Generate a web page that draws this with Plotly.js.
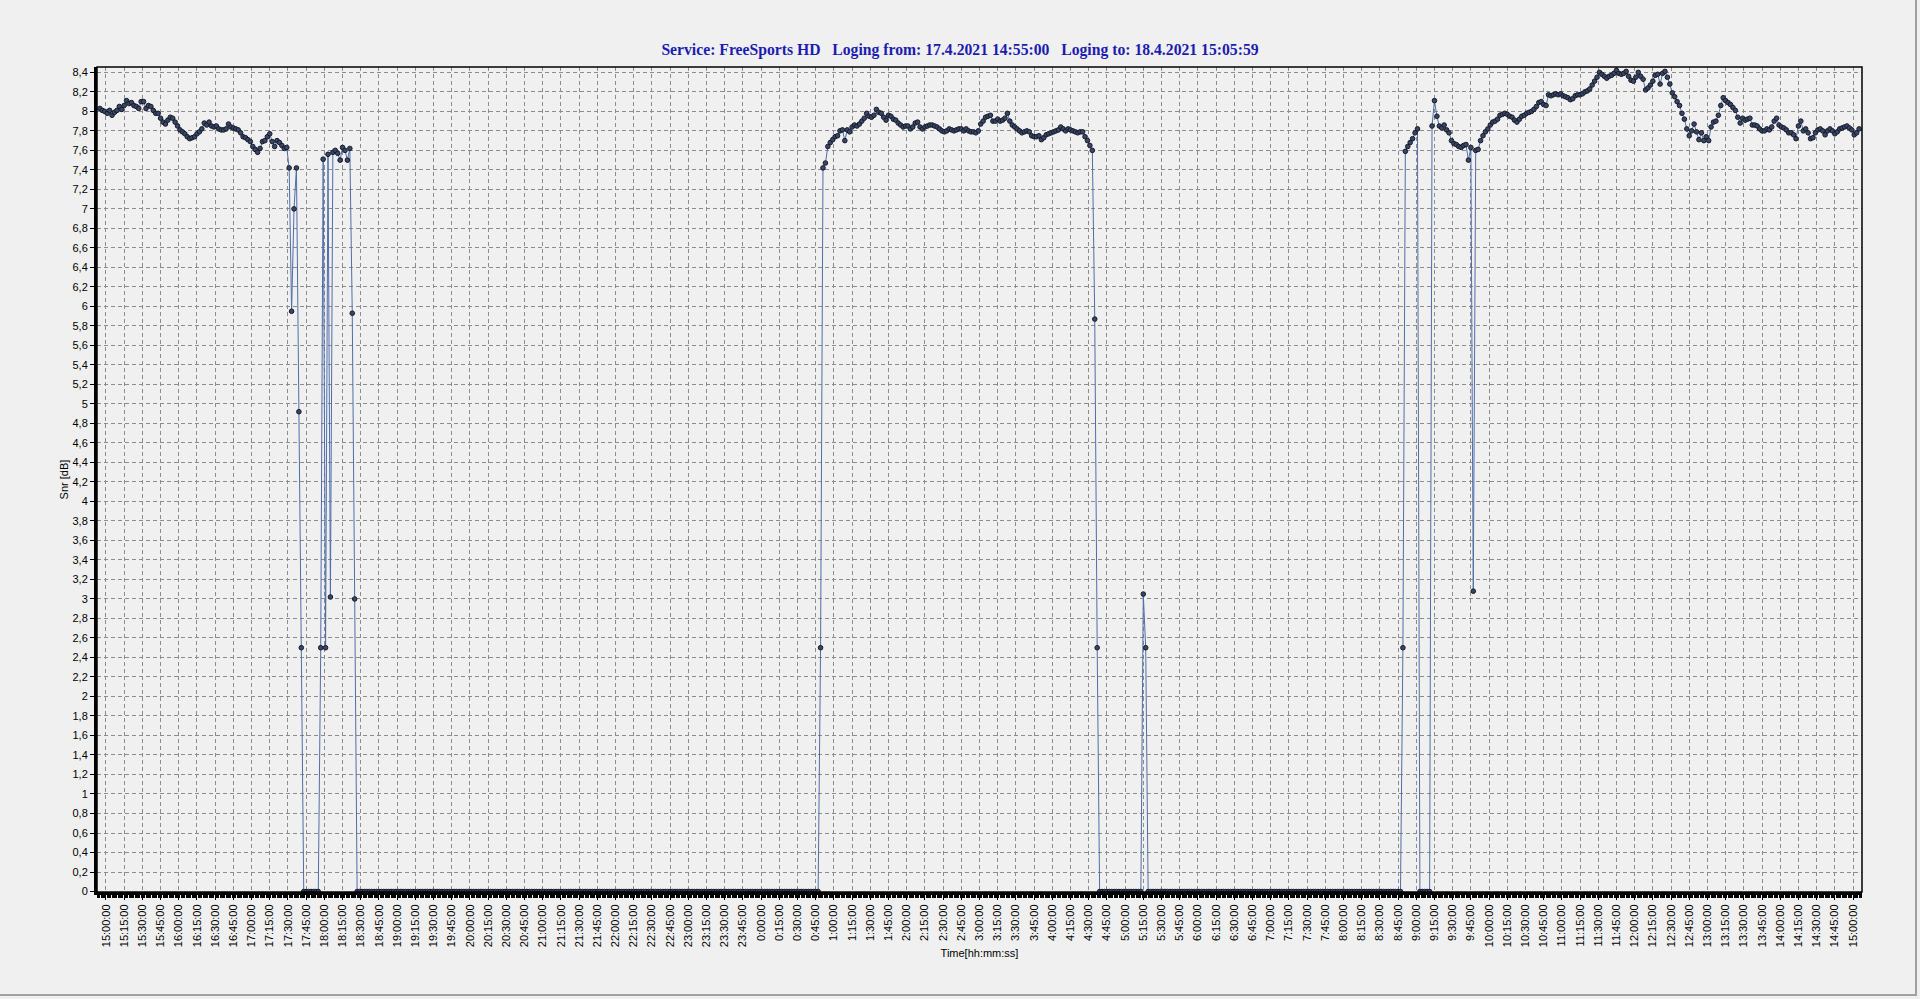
<!DOCTYPE html>
<html>
<head>
<meta charset="utf-8">
<script src="https://cdn.plot.ly/plotly-3.0.1.min.js"></script>
<style>
html,body{margin:0;padding:0;background:#f0f0f0;overflow:hidden}
#chart{position:absolute;left:0;top:0;width:1920px;height:999px}
#frameR{position:absolute;left:1915px;top:0;width:2px;height:996px;background:#a0a0a0}
#frameB{position:absolute;left:0;top:994px;width:1917px;height:2px;background:#a0a0a0}
</style>
</head>
<body>
<div id="chart"></div>
<div id="frameR"></div>
<div id="frameB"></div>
<script>
// Sampling step of the log (minutes)
const stepMinutes = 2;

// 17.4 14:55 -> 18:25 : signal, then first outages
const segAStart = '2021-04-17 14:55:00';
const segA = [
8.03,8.01,8.0,7.98,8.01,7.96,7.99,8.01,8.05,8.02,
8.06,8.11,8.08,8.09,8.06,8.05,8.03,8.1,8.1,8.03,
8.06,8.05,8.01,7.98,7.98,7.93,7.89,7.87,7.91,7.94,
7.93,7.89,7.85,7.81,7.79,7.77,7.74,7.72,7.73,7.74,
7.77,7.79,7.82,7.88,7.86,7.89,7.85,7.84,7.85,7.82,
7.81,7.81,7.82,7.87,7.84,7.83,7.82,7.81,7.78,7.74,
7.73,7.71,7.69,7.64,7.61,7.58,7.62,7.69,7.7,7.74,
7.77,7.69,7.64,7.7,7.68,7.65,7.62,7.63,7.42,5.95,
7.0,7.42,4.92,2.5,0,0,0,0,0,0,
0,2.5,7.51,2.5,7.56,3.02,7.58,7.6,7.57,7.5,
7.63,7.6,7.5,7.62,5.93,3.0
];

// 18:27 -> 0:47 : no signal
const zerosAStart = '2021-04-17 18:27:00';
const zerosA = [
0,0,0,0,0,0,0,0,0,0, 0,0,0,0,0,0,0,0,0,0,
0,0,0,0,0,0,0,0,0,0, 0,0,0,0,0,0,0,0,0,0,
0,0,0,0,0,0,0,0,0,0, 0,0,0,0,0,0,0,0,0,0,
0,0,0,0,0,0,0,0,0,0, 0,0,0,0,0,0,0,0,0,0,
0,0,0,0,0,0,0,0,0,0, 0,0,0,0,0,0,0,0,0,0,
0,0,0,0,0,0,0,0,0,0, 0,0,0,0,0,0,0,0,0,0,
0,0,0,0,0,0,0,0,0,0, 0,0,0,0,0,0,0,0,0,0,
0,0,0,0,0,0,0,0,0,0, 0,0,0,0,0,0,0,0,0,0,
0,0,0,0,0,0,0,0,0,0, 0,0,0,0,0,0,0,0,0,0,
0,0,0,0,0,0,0,0,0,0,
0
];

// 0:49 -> 4:37 : signal back
const segBStart = '2021-04-18 00:49:00';
const segB = [
2.5,
7.42,7.47,7.64,7.68,7.71,7.74,7.75,7.8,7.81,7.7,
7.81,7.79,7.84,7.86,7.85,7.87,7.9,7.93,7.98,7.95,
7.94,7.96,8.02,7.99,7.98,7.94,7.91,7.96,7.95,7.92,
7.91,7.88,7.86,7.84,7.85,7.85,7.82,7.84,7.88,7.89,
7.84,7.82,7.84,7.85,7.86,7.86,7.85,7.84,7.82,7.8,
7.79,7.8,7.82,7.81,7.8,7.81,7.82,7.82,7.8,7.82,
7.8,7.79,7.79,7.78,7.8,7.87,7.9,7.94,7.95,7.96,
7.9,7.9,7.92,7.9,7.91,7.93,7.98,7.9,7.86,7.84,
7.82,7.8,7.78,7.79,7.8,7.79,7.75,7.74,7.74,7.75,
7.71,7.73,7.76,7.77,7.78,7.79,7.8,7.81,7.84,7.82,
7.8,7.82,7.81,7.8,7.79,7.78,7.79,7.79,7.74,7.7,
7.65,7.6,
5.87,2.5
];

// 4:39 -> 5:13 : no signal
const zerosBStart = '2021-04-18 04:39:00';
const zerosB = [0,0,0,0,0,0,0,0,0,0, 0,0,0,0,0,0,0,0];

// 5:15 short spike
const spikeStart = '2021-04-18 05:15:00';
const spike = [3.05,2.5];

// 5:19 -> 8:47 : no signal
const zerosCStart = '2021-04-18 05:19:00';
const zerosC = [
0,0,0,0,0,0,0,0,0,0, 0,0,0,0,0,0,0,0,0,0,
0,0,0,0,0,0,0,0,0,0, 0,0,0,0,0,0,0,0,0,0,
0,0,0,0,0,0,0,0,0,0, 0,0,0,0,0,0,0,0,0,0,
0,0,0,0,0,0,0,0,0,0, 0,0,0,0,0,0,0,0,0,0,
0,0,0,0,0,0,0,0,0,0, 0,0,0,0,0,0,0,0,0,0,
0,0,0,0,0
];

// 8:49 -> 9:01 : short return
const segCStart = '2021-04-18 08:49:00';
const segC = [2.5,7.59,7.64,7.68,7.72,7.78,7.82];

// 9:03 -> 9:11 : no signal
const zerosDStart = '2021-04-18 09:03:00';
const zerosD = [0,0,0,0,0];

// 9:13 -> 15:05 : signal
const segDStart = '2021-04-18 09:13:00';
const segD = [
7.85,8.11,7.95,7.85,7.83,7.86,7.81,7.78,7.7,7.67,
7.66,7.64,7.63,7.65,7.66,7.5,7.63,3.08,7.6,7.61,
7.7,7.75,7.79,7.82,7.86,7.89,7.9,7.92,7.96,7.97,
7.98,7.97,7.95,7.94,7.91,7.89,7.92,7.95,7.96,7.98,
7.99,8.0,8.02,8.05,8.09,8.1,8.07,8.06,8.17,8.16,
8.17,8.18,8.17,8.18,8.16,8.15,8.14,8.12,8.13,8.16,
8.17,8.17,8.18,8.2,8.21,8.23,8.27,8.31,8.35,8.4,
8.38,8.36,8.34,8.36,8.37,8.39,8.42,8.39,8.38,8.39,
8.41,8.36,8.32,8.31,8.35,8.4,
8.36,8.33,8.22,8.24,8.27,8.31,8.37,8.38,8.28,8.39,
8.41,8.35,8.28,8.19,8.15,8.1,8.06,7.98,7.92,7.82,
7.75,7.8,7.87,7.79,7.71,7.78,7.7,7.74,7.7,7.84,
7.89,7.9,7.96,8.06,8.14,8.11,8.09,8.07,8.04,8.01,
7.94,7.88,7.93,7.91,7.92,7.93,7.86,7.86,7.85,7.82,
7.8,7.8,7.82,7.81,7.84,7.9,7.93,7.86,7.84,7.83,
7.81,7.78,7.78,7.76,7.72,7.85,7.9,7.8,7.82,7.78,
7.72,7.73,7.78,7.81,7.82,7.8,7.76,7.8,7.82,7.8,
7.77,7.79,7.82,7.83,7.84,7.85,7.83,7.81,7.76,7.78,
7.82
];

const yTickLabels = ['0','0,2','0,4','0,6','0,8','1','1,2','1,4','1,6','1,8','2','2,2','2,4','2,6','2,8','3','3,2','3,4','3,6','3,8','4','4,2','4,4','4,6','4,8','5','5,2','5,4','5,6','5,8','6','6,2','6,4','6,6','6,8','7','7,2','7,4','7,6','7,8','8','8,2','8,4'];

const titleText = 'Service: FreeSports HD\u00a0\u00a0\u00a0Loging from: 17.4.2021 14:55:00\u00a0\u00a0\u00a0Loging to: 18.4.2021 15:05:59';

// ---- build the trace from the segments ----
const segments = [
  [segAStart, segA], [zerosAStart, zerosA], [segBStart, segB], [zerosBStart, zerosB],
  [spikeStart, spike], [zerosCStart, zerosC], [segCStart, segC], [zerosDStart, zerosD],
  [segDStart, segD]
];
function toStamp(startStr, minutes){
  const d = new Date(startStr.replace(' ','T') + 'Z');
  d.setTime(d.getTime() + minutes*60000);
  return d.toISOString().slice(0,19).replace('T',' ');
}
const xs = [], ys = [];
segments.forEach(([s, vals]) => {
  vals.forEach((v, k) => { xs.push(toStamp(s, k*stepMinutes)); ys.push(v); });
});
const yTickVals = yTickLabels.map(t => parseFloat(t.replace(',', '.')));

const trace = {
  x: xs, y: ys, type: 'scatter', mode: 'lines+markers',
  line: {color: '#4f6da8', width: 1},
  marker: {size: 4.6, color: '#3a4668', line: {color: '#151a28', width: 1}},
  cliponaxis: false, hoverinfo: 'skip'
};

const axisFont = {family: 'Liberation Sans, Arial, sans-serif', size: 11, color: '#000'};
const layout = {
  width: 1920, height: 999,
  paper_bgcolor: '#f0f0f0', plot_bgcolor: '#f0f0f0',
  margin: {l: 97, r: 58, t: 67, b: 107, pad: 0},
  showlegend: false,
  title: {
    text: '<b>' + titleText + '</b>',
    font: {family: 'Liberation Serif, Times New Roman, serif', size: 15.7, color: '#1c1cb0'},
    xref: 'container', x: 0.5, xanchor: 'center',
    yref: 'container', y: 1 - 50/999, yanchor: 'middle'
  },
  xaxis: {
    type: 'date',
    range: ['2021-04-17 14:52:36', '2021-04-18 15:07:24'],
    tick0: '2021-04-17 15:00:00', dtick: 900000,
    tickformat: '%-H:%M:%S', tickangle: -90,
    ticks: 'outside', ticklen: 5, tickwidth: 1, tickcolor: '#000',
    tickfont: axisFont,
    showgrid: true, gridcolor: '#8c8c8c', gridwidth: 1, griddash: '4px,3px',
    minor: {dtick: 60000, tick0: '2021-04-17 15:00:00', ticks: 'outside', ticklen: 3, tickwidth: 1, tickcolor: '#000', showgrid: false},
    showline: true, linecolor: '#000', linewidth: 3,
    zeroline: false, automargin: false, fixedrange: true,
    title: {text: 'Time[hh:mm:ss]', font: axisFont, standoff: 4}
  },
  yaxis: {
    range: [-0.005, 8.455],
    tickmode: 'array', tickvals: yTickVals, ticktext: yTickLabels,
    ticks: 'outside', ticklen: 4, tickwidth: 1, tickcolor: '#000',
    tickfont: axisFont,
    showgrid: true, gridcolor: '#8c8c8c', gridwidth: 1, griddash: '4px,3px',
    showline: true, linecolor: '#000', linewidth: 3,
    zeroline: false, automargin: false, fixedrange: true,
    title: {text: 'Snr [dB]', font: axisFont, standoff: 2}
  },
  shapes: [
    {type: 'rect', xref: 'paper', yref: 'paper', x0: 0, x1: 1, y0: 0, y1: 1,
     line: {color: '#000', width: 1.5}, fillcolor: 'rgba(0,0,0,0)', layer: 'above'}
  ]
};

Plotly.newPlot('chart', [trace], layout, {staticPlot: true, displayModeBar: false});
</script>
</body>
</html>
